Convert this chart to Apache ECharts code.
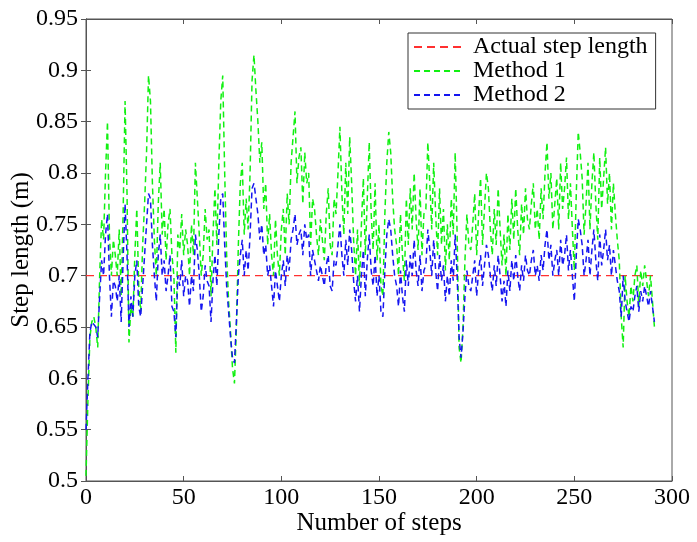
<!DOCTYPE html>
<html>
<head>
<meta charset="utf-8">
<script src="https://cdn.jsdelivr.net/npm/echarts@6/dist/echarts.min.js"></script>
<style>
html, body { margin: 0; padding: 0; background: #fff; }
#main { width: 697px; height: 542px; }
</style>
</head>
<body>
<div id="main"></div>
<script>
// 数据
var actualSteps = [0, 291];
var actualValues = [0.7, 0.7];

// Method 2 (blue)
var method2 = [
	0.55, 0.60, 0.645, 0.655, 0.655, 0.65, 0.64, 0.68, 0.715, 0.70,
	0.74, 0.76, 0.70, 0.66, 0.695, 0.69, 0.675, 0.70, 0.655, 0.715,
	0.77, 0.72, 0.65, 0.68, 0.66, 0.70, 0.715, 0.67, 0.66, 0.69,
	0.72, 0.75, 0.78, 0.775, 0.73, 0.70, 0.675, 0.72, 0.74, 0.70,
	0.715, 0.685, 0.70, 0.72, 0.67, 0.665, 0.64, 0.70, 0.69, 0.715,
	0.68, 0.70, 0.695, 0.67, 0.70, 0.685, 0.74, 0.725, 0.70, 0.665,
	0.68, 0.71, 0.695, 0.69, 0.655, 0.695, 0.72, 0.69, 0.74, 0.775,
	0.78, 0.73, 0.69, 0.665, 0.64, 0.62, 0.615, 0.655, 0.70, 0.72,
	0.735, 0.70, 0.725, 0.705, 0.74, 0.785, 0.79, 0.775, 0.76, 0.735,
	0.75, 0.72, 0.73, 0.70, 0.71, 0.69, 0.67, 0.705, 0.69, 0.675,
	0.70, 0.715, 0.69, 0.72, 0.705, 0.735, 0.745, 0.76, 0.73, 0.74,
	0.745, 0.72, 0.75, 0.735, 0.74, 0.70, 0.725, 0.715, 0.705, 0.695,
	0.71, 0.70, 0.69, 0.71, 0.72, 0.69, 0.685, 0.715, 0.71, 0.73,
	0.75, 0.72, 0.70, 0.735, 0.71, 0.745, 0.725, 0.695, 0.675, 0.70,
	0.665, 0.70, 0.725, 0.68, 0.715, 0.74, 0.705, 0.69, 0.72, 0.68,
	0.70, 0.665, 0.66, 0.705, 0.74, 0.755, 0.745, 0.72, 0.70, 0.69,
	0.67, 0.705, 0.68, 0.665, 0.715, 0.69, 0.72, 0.70, 0.735, 0.705,
	0.69, 0.72, 0.685, 0.705, 0.71, 0.745, 0.725, 0.70, 0.735, 0.705,
	0.685, 0.72, 0.695, 0.71, 0.675, 0.70, 0.68, 0.715, 0.695, 0.74,
	0.70, 0.64, 0.62, 0.645, 0.68, 0.705, 0.69, 0.685, 0.70, 0.715,
	0.68, 0.705, 0.72, 0.69, 0.71, 0.73, 0.72, 0.70, 0.685, 0.71,
	0.69, 0.72, 0.70, 0.675, 0.695, 0.67, 0.705, 0.685, 0.715, 0.695,
	0.72, 0.70, 0.685, 0.71, 0.695, 0.72, 0.705, 0.70, 0.715, 0.725,
	0.70, 0.71, 0.695, 0.72, 0.705, 0.73, 0.745, 0.715, 0.73, 0.70,
	0.715, 0.725, 0.70, 0.735, 0.71, 0.72, 0.74, 0.705, 0.725, 0.70,
	0.675, 0.72, 0.755, 0.745, 0.73, 0.70, 0.715, 0.735, 0.70, 0.725,
	0.745, 0.715, 0.695, 0.74, 0.71, 0.725, 0.745, 0.715, 0.73, 0.70,
	0.725, 0.71, 0.695, 0.685, 0.66, 0.70, 0.675, 0.665, 0.655, 0.67,
	0.665, 0.68, 0.69, 0.665, 0.685, 0.675, 0.69, 0.68, 0.67, 0.685,
	0.67, 0.655
];

// Method 1 (green)
var method1 = [
	0.505, 0.58, 0.64, 0.655, 0.66, 0.65, 0.63, 0.70, 0.755, 0.735,
	0.80, 0.85, 0.74, 0.70, 0.735, 0.72, 0.70, 0.745, 0.68, 0.76,
	0.87, 0.78, 0.635, 0.67, 0.66, 0.72, 0.765, 0.69, 0.665, 0.73,
	0.77, 0.82, 0.895, 0.87, 0.79, 0.735, 0.70, 0.77, 0.81, 0.74,
	0.765, 0.715, 0.75, 0.765, 0.72, 0.70, 0.625, 0.74, 0.725, 0.76,
	0.72, 0.745, 0.73, 0.70, 0.75, 0.72, 0.81, 0.775, 0.74, 0.70,
	0.72, 0.765, 0.735, 0.745, 0.68, 0.74, 0.785, 0.73, 0.81, 0.87,
	0.895, 0.80, 0.72, 0.675, 0.645, 0.61, 0.595, 0.65, 0.73, 0.79,
	0.81, 0.74, 0.775, 0.745, 0.80, 0.89, 0.915, 0.88, 0.85, 0.81,
	0.83, 0.765, 0.79, 0.73, 0.76, 0.72, 0.70, 0.755, 0.72, 0.70,
	0.745, 0.765, 0.72, 0.78, 0.75, 0.81, 0.835, 0.86, 0.79, 0.815,
	0.825, 0.77, 0.82, 0.79, 0.80, 0.73, 0.775, 0.765, 0.74, 0.72,
	0.755, 0.735, 0.715, 0.76, 0.785, 0.73, 0.72, 0.775, 0.76, 0.80,
	0.845, 0.78, 0.74, 0.81, 0.76, 0.835, 0.79, 0.735, 0.70, 0.745,
	0.69, 0.75, 0.795, 0.72, 0.775, 0.83, 0.76, 0.725, 0.79, 0.715,
	0.75, 0.69, 0.68, 0.76, 0.81, 0.84, 0.82, 0.775, 0.745, 0.73,
	0.70, 0.76, 0.72, 0.695, 0.775, 0.73, 0.785, 0.745, 0.80, 0.755,
	0.725, 0.785, 0.72, 0.76, 0.765, 0.83, 0.79, 0.745, 0.81, 0.76,
	0.72, 0.785, 0.73, 0.765, 0.705, 0.75, 0.715, 0.775, 0.74, 0.82,
	0.74, 0.63, 0.615, 0.65, 0.715, 0.76, 0.73, 0.725, 0.75, 0.78,
	0.72, 0.76, 0.795, 0.73, 0.765, 0.80, 0.785, 0.745, 0.72, 0.765,
	0.73, 0.785, 0.745, 0.71, 0.74, 0.70, 0.76, 0.725, 0.775, 0.735,
	0.785, 0.745, 0.72, 0.77, 0.74, 0.785, 0.755, 0.745, 0.77, 0.79,
	0.745, 0.765, 0.735, 0.785, 0.755, 0.80, 0.83, 0.775, 0.80, 0.745,
	0.77, 0.795, 0.745, 0.81, 0.765, 0.785, 0.815, 0.755, 0.79, 0.745,
	0.705, 0.78, 0.84, 0.82, 0.795, 0.74, 0.77, 0.81, 0.745, 0.79,
	0.82, 0.77, 0.735, 0.815, 0.765, 0.795, 0.825, 0.77, 0.80, 0.745,
	0.79, 0.76, 0.735, 0.715, 0.66, 0.63, 0.70, 0.675, 0.66, 0.69,
	0.675, 0.70, 0.71, 0.67, 0.705, 0.69, 0.71, 0.695, 0.68, 0.70,
	0.675, 0.65
];

var xTicks = { min: 0, max: 300, interval: 50 };
var yTicks = { min: 0.5, max: 0.95, interval: 0.05 };

function pairs(ys) {
	var out = [];
	for (var i = 0; i < ys.length; i++) {
		out.push([i, ys[i]]);
	}
	return out;
}

var chart = echarts.init(document.getElementById('main'));
var font = 'Liberation Serif';
var axisColor = '#555';

var option = {
	animation: false,
	backgroundColor: '#fff',
	grid: {
		left: 86, right: 25, top: 19, bottom: 61,
		outerBoundsMode: 'none',
		containLabel: false,
		show: true, borderColor: axisColor, borderWidth: 1
	},
	legend: {
		orient: 'vertical',
		left: 408,
		top: 33,
		padding: [2, 8, 2, 5],
		itemGap: 0,
		itemWidth: 48,
		itemHeight: 22,
		backgroundColor: '#fff',
		borderColor: '#333',
		borderWidth: 1,
		itemStyle: { opacity: 0 },
		textStyle: { fontFamily: font, fontSize: 24, color: '#000', padding: [0, 0, 0, 6] },
		data: ['Actual step length', 'Method 1', 'Method 2']
	},
	xAxis: [{
		type: 'value',
		min: xTicks.min, max: xTicks.max, interval: xTicks.interval,
		name: 'Number of steps',
		nameLocation: 'middle',
		nameGap: 30,
		nameMoveOverlap: false,
		nameTextStyle: { fontFamily: font, fontSize: 25, color: '#000' },
		axisLine: { show: true, lineStyle: { color: axisColor } },
		axisTick: { show: true, inside: true, length: 5, lineStyle: { color: axisColor } },
		axisLabel: { fontFamily: font, fontSize: 24, color: '#000', margin: 5 },
		splitLine: { show: false }
	}, {
		type: 'value', position: 'top',
		min: xTicks.min, max: xTicks.max, interval: xTicks.interval,
		axisLine: { show: true, lineStyle: { color: axisColor } },
		axisTick: { show: true, inside: true, length: 5, lineStyle: { color: axisColor } },
		axisLabel: { show: false },
		splitLine: { show: false }
	}],
	yAxis: [{
		type: 'value',
		min: yTicks.min, max: yTicks.max, interval: yTicks.interval,
		name: 'Step length (m)',
		nameLocation: 'middle',
		nameGap: 52,
		nameMoveOverlap: false,
		nameTextStyle: { fontFamily: font, fontSize: 25, color: '#000' },
		axisLine: { show: true, lineStyle: { color: axisColor } },
		axisTick: { show: true, inside: true, length: 5, lineStyle: { color: axisColor } },
		axisLabel: { fontFamily: font, fontSize: 24, color: '#000', margin: 8 },
		splitLine: { show: false }
	}, {
		type: 'value', position: 'right',
		min: yTicks.min, max: yTicks.max, interval: yTicks.interval,
		axisLine: { show: true, lineStyle: { color: axisColor } },
		axisTick: { show: true, inside: true, length: 5, lineStyle: { color: axisColor } },
		axisLabel: { show: false },
		splitLine: { show: false }
	}],
	series: [{
		name: 'Actual step length',
		type: 'line',
		symbol: 'none',
		data: [[actualSteps[0], actualValues[0]], [actualSteps[1], actualValues[1]]],
		lineStyle: { color: '#ff3030', width: 1.4, type: [8, 5] },
		itemStyle: { color: '#ff3030' },
		z: 2
	}, {
		name: 'Method 1',
		type: 'line',
		symbol: 'none',
		data: pairs(method1),
		lineStyle: { color: '#11f011', width: 1.5, type: [6, 4] },
		itemStyle: { color: '#11f011' },
		z: 3
	}, {
		name: 'Method 2',
		type: 'line',
		symbol: 'none',
		data: pairs(method2),
		lineStyle: { color: '#1515f0', width: 1.5, type: [6, 4] },
		itemStyle: { color: '#1515f0' },
		z: 4
	}]
};

chart.setOption(option);
window.onresize = function() {
	chart.resize();
};
</script>
</body>
</html>
